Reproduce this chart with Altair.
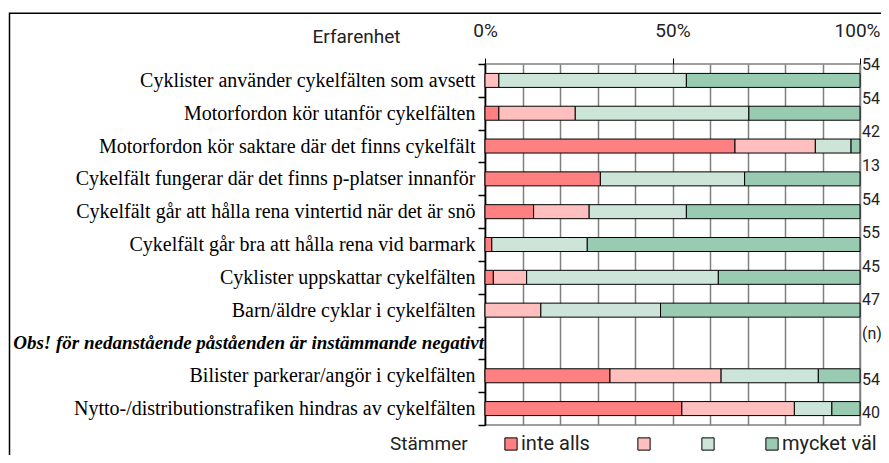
import altair as alt
import pandas as pd

statements = [
    "Cyklister använder cykelfälten som avsett",
    "Motorfordon kör utanför cykelfälten",
    "Motorfordon kör saktare där det finns cykelfält",
    "Cykelfält fungerar där det finns p-platser innanför",
    "Cykelfält går att hålla rena vintertid när det är snö",
    "Cykelfält går bra att hålla rena vid barmark",
    "Cyklister uppskattar cykelfälten",
    "Barn/äldre cyklar i cykelfälten",
    "Obs! för nedanstående påståenden är instämmande negativt",
    "Bilister parkerar/angör i cykelfälten",
    "Nytto-/distributionstrafiken hindras av cykelfälten",
]
levels = ["inte alls", "2", "3", "mycket väl"]
inte_alls = [0, 2, 28, 4, 7, 1, 1, 0, 0, 18, 21]
level_2 = [2, 11, 9, 0, 8, 0, 4, 7, 0, 16, 12]
level_3 = [27, 25, 4, 5, 14, 14, 23, 15, 0, 14, 4]
mycket_val = [25, 16, 1, 4, 25, 40, 17, 25, 0, 6, 3]
n_labels = ["54", "54", "42", "13", "54", "55", "45", "47", "(n)", "54", "40"]
colors = ["#FF8080", "#FFBFBF", "#CCE5D8", "#99CBB2"]
tick_values = [0, 0.1, 0.2, 0.3, 0.4, 0.5, 0.6, 0.7, 0.8, 0.9, 1.0]

OBS = statements[8]
SANS = "Roboto"
SERIF = "Liberation Serif"

rows = []
for i, s in enumerate(statements):
    for li, vals in enumerate([inte_alls, level_2, level_3, mycket_val]):
        if vals[i] > 0:
            rows.append({"statement": s, "level": levels[li], "lvl": li, "count": vals[i]})
df = pd.DataFrame(rows)

y_band = alt.Scale(domain=statements, paddingInner=0, paddingOuter=0)
y_point = alt.Scale(domain=statements, type="point", padding=0.5)
x_scale = alt.Scale(domain=[0, 1], nice=False, zero=True)

major = "datum.value == 0 || datum.value == 0.5 || datum.value == 1"
x_axis = alt.Axis(
    orient="top", values=tick_values, grid=True, gridColor="#7f7f7f", gridWidth=1.5,
    domain=False, tickSize=6,
    tickColor={"condition": {"test": major, "value": "#000000"}, "value": "transparent"},
    labelExpr=f"({major}) ? format(datum.value, '.0%') : ''",
    labelFlush=False,
    labelOffset={"condition": {"test": "datum.value == 1", "value": -3}, "value": 0},
    labelFont=SANS, labelFontSize=19, labelColor="#222222", labelPadding=18,
    title="Erfarenhet", titleX=-129, titleY=-28, titleAlign="center", titleBaseline="middle",
    titleFont=SANS, titleFontSize=19, titleFontWeight="normal", titleColor="#222222",
)

bars = alt.Chart(df).mark_bar(size=14, stroke="black", strokeWidth=1).encode(
    x=alt.X("count:Q", stack="normalize", scale=x_scale, axis=x_axis),
    y=alt.Y("statement:N", sort=statements, scale=y_band,
            axis=alt.Axis(title=None, labelFont=SERIF, labelFontSize=20, labelColor="black",
                          labelLimit=600, labelPadding=3, tickBand="extent", tickSize=7,
                          tickColor="black", tickWidth=1.5, domainColor="black", domainWidth=1.5,
                          grid=False,
                          labelExpr=f"datum.value == '{OBS}' ? '' : datum.label")),
    color=alt.Color("level:N", scale=alt.Scale(domain=levels, range=colors),
                    legend=alt.Legend(
                        orient="none", legendX=-95, legendY=370, direction="horizontal",
                        columns=4, title="Stämmer", titleOrient="left", titlePadding=33,
                        titleFont=SANS, titleFontSize=19, titleFontWeight="normal",
                        titleColor="#222222", titleBaseline="middle",
                        symbolType="square", symbolSize=150, symbolStrokeColor="black",
                        symbolStrokeWidth=1, symbolOpacity=1,
                        labelFont=SANS, labelFontSize=20, labelColor="#222222", labelOffset=0,
                        columnPadding=44,
                        labelExpr="datum.label == '2' || datum.label == '3' ? '' : datum.label")),
    order=alt.Order("lvl:Q"),
)

obs_df = pd.DataFrame({"statement": [OBS], "pos": [0.0]})
obs_text = alt.Chart(obs_df).mark_text(
    align="right", baseline="middle", font=SERIF, fontSize=19, fontWeight="bold",
    fontStyle="italic", dx=-1, color="black"
).encode(
    x=alt.X("pos:Q", scale=x_scale, axis=x_axis),
    y=alt.Y("statement:N", sort=statements, scale=y_point, axis=None),
    text="statement:N",
)

n_df = pd.DataFrame({"n": n_labels, "statement": statements,
                     "slot": list(range(len(n_labels))), "pos": [1.0] * len(n_labels)})
n_top = alt.Chart(n_df).transform_filter("datum.slot <= 8").mark_text(
    align="left", baseline="middle", font=SANS, fontSize=16, dx=2, color="#222222"
).encode(
    x=alt.X("pos:Q", scale=x_scale, axis=x_axis),
    y=alt.Y("slot:Q", scale=alt.Scale(domain=[0, 8], range=[1, 270], nice=False, zero=False), axis=None),
    text="n:N",
)
n_bottom = alt.Chart(n_df).transform_filter("datum.slot > 8").mark_text(
    align="left", baseline="middle", font=SANS, fontSize=16, dx=2, dy=4, color="#222222"
).encode(
    x=alt.X("pos:Q", scale=x_scale, axis=x_axis),
    y=alt.Y("statement:N", sort=statements, scale=y_point, axis=None),
    text="n:N",
)

frame = alt.Chart(pd.DataFrame({"a": [0]})).mark_rect(
    filled=False, stroke="black", strokeWidth=1.5
).encode(
    x=alt.value(-475.5), y=alt.value(-50.7), x2=alt.value(600), y2=alt.value(600)
)

chart = alt.layer(frame, bars, obs_text, n_top, n_bottom).resolve_scale(y="independent").properties(
    width=375, height=361,
    autosize=alt.AutoSizeParams(type="none"),
    padding={"left": 477, "top": 56, "right": 21, "bottom": 30},
    background="white",
).configure_view(stroke="#7f7f7f", strokeWidth=1.5)

chart.save("out.html", embed_options={"renderer": "svg", "actions": False})
